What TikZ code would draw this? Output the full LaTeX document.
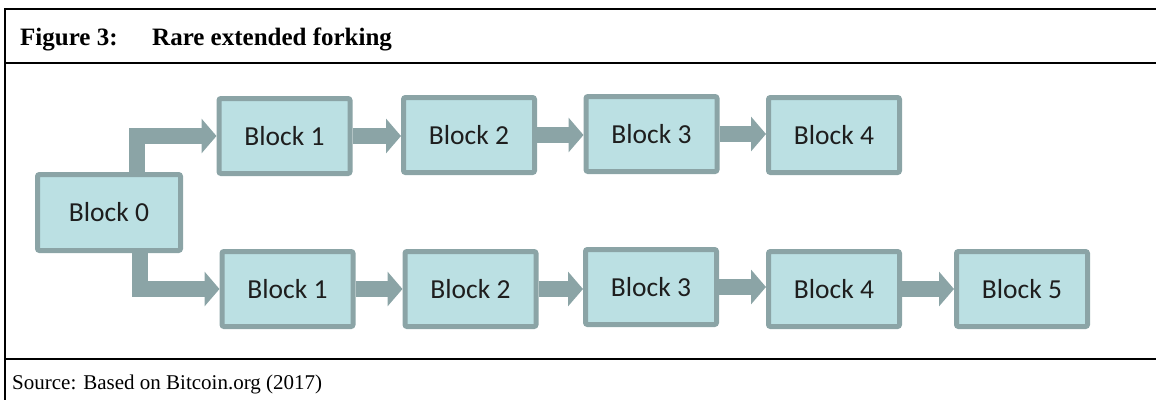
\documentclass[tikz,border=0pt]{standalone}
\usepackage{fontspec}
\setmainfont{Liberation Serif}
\newfontfamily\boxfont{Carlito}
\usetikzlibrary{arrows.meta}
\definecolor{bord}{RGB}{139,164,166}
\definecolor{bfill}{RGB}{187,224,227}
\definecolor{btext}{RGB}{30,30,30}
\begin{document}
\begin{tikzpicture}[x=1pt,y=-1pt,
  blk/.style={draw=bord, fill=bfill, line width=5pt, rounded corners=2pt,
    minimum width=131pt, minimum height=75pt, inner sep=0pt, text=btext,
    font=\boxfont\fontsize{27.5}{32}\selectfont},
  conn/.style={draw=bord, line width=16pt, -{Triangle[length=15pt,width=34pt]}},
  frame/.style={line width=2.5pt, black}]
\useasboundingbox (0,0) rectangle (1156,400);
% frame
\draw[frame] (1156,9) -- (5,9) -- (5,400);
\draw[frame] (5,63) -- (1156,63);
\draw[frame] (5,359) -- (1156,359);
% title
\node[anchor=base west, inner sep=0pt, font=\bfseries\fontsize{25}{30}\selectfont] (fig) at (20,45) {Figure 3:};
\node[anchor=base west, inner sep=0pt, font=\bfseries\fontsize{25}{30}\selectfont] (ttl) at (152,45) {Rare extended forking};
\node[anchor=base west, inner sep=0pt, font=\fontsize{21}{25}\selectfont] (src) at (12,389) {Source: Based on Bitcoin.org (2017)};
% blocks
\node[blk, minimum width=143pt, minimum height=76pt] (b0) at (109,212.5) {Block 0};
\node[blk] (t1) at (284.5,136) {Block 1};
\node[blk] (t2) at (469,135) {Block 2};
\node[blk] (t3) at (651.5,134) {Block 3};
\node[blk] (t4) at (834,135) {Block 4};
\node[blk] (u1) at (287.5,289) {Block 1};
\node[blk] (u2) at (470.5,289) {Block 2};
\node[blk] (u3) at (651,287) {Block 3};
\node[blk] (u4) at (834,289) {Block 4};
\node[blk] (u5) at (1022,289) {Block 5};
% fork connectors
\draw[conn] ([xshift=28pt]b0.north) |- (t1.west);
\draw[conn] ([xshift=31pt]b0.south) |- (u1.west);
% chain connectors
\draw[conn] (t1.east) -- (t1.east -| t2.west);
\draw[conn] (t2.east) -- (t2.east -| t3.west);
\draw[conn] (t3.east) -- (t3.east -| t4.west);
\draw[conn] (u1.east) -- (u1.east -| u2.west);
\draw[conn] (u2.east) -- (u2.east -| u3.west);
\draw[conn] (u3.east) -- (u3.east -| u4.west);
\draw[conn] (u4.east) -- (u4.east -| u5.west);
\end{tikzpicture}
\end{document}
